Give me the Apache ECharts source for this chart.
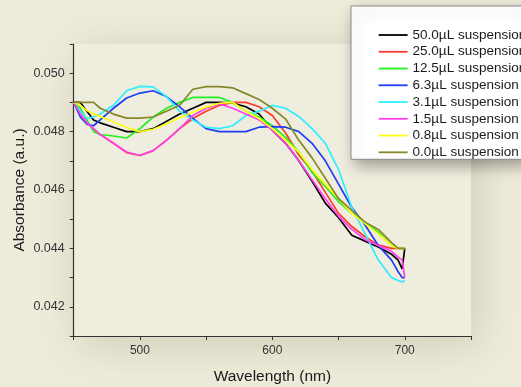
<!DOCTYPE html>
<html>
<head>
<meta charset="utf-8">
<script src="https://cdn.jsdelivr.net/npm/echarts@6/dist/echarts.min.js"></script>
<style>
html,body{margin:0;padding:0;background:#EDEBDA;}
#chart{width:521px;height:387px;}
</style>
</head>
<body>
<div id="chart"></div>
<script>
// Wavelength sample points (nm)
const wavelengths = [450,455,460,465,470,480,490,500,510,520,530,540,550,560,570,580,590,600,610,620,630,640,650,660,670,680,690,695,698,700];

const seriesNames = ["50.0µL suspension","25.0µL suspension","12.5µL suspension","6.3µL suspension","3.1µL suspension","1.5µL suspension","0.8µL suspension","0.0µL suspension"];

const s50_0 = [0.0490,0.0490,0.0487,0.0484,0.0483,0.04815,0.0480,0.0480,0.0481,0.04835,0.0486,0.0488,0.0490,0.0490,0.04898,0.04885,0.0486,0.04805,0.0476,0.0470,0.0463,0.04555,0.04505,0.04445,0.04425,0.04405,0.0438,0.0436,0.0433,0.0440];
const s25_0 = [0.0490,0.0486,0.0483,0.0481,0.0479,0.0476,0.04728,0.04718,0.04735,0.0477,0.0481,0.04845,0.0487,0.0489,0.0490,0.0490,0.04885,0.04855,0.04795,0.0472,0.04665,0.04592,0.0452,0.04475,0.0444,0.04412,0.0440,0.0440,0.0440,0.0440];
const s12_5 = [0.0490,0.0488,0.0484,0.0480,0.0479,0.04785,0.04778,0.0481,0.0485,0.0488,0.0490,0.04917,0.04917,0.04917,0.0490,0.0487,0.0485,0.0482,0.0478,0.0473,0.0466,0.04612,0.0456,0.0452,0.0449,0.04455,0.0441,0.0440,0.0440,0.0440];
const s6_3 = [0.0490,0.0485,0.04825,0.0482,0.0484,0.0488,0.04915,0.04932,0.0494,0.0492,0.04885,0.04845,0.0481,0.0480,0.0480,0.0480,0.04815,0.04817,0.04815,0.0480,0.0476,0.0470,0.0462,0.0454,0.0448,0.0441,0.0436,0.0432,0.0430,0.0430];
const s3_1 = [0.0490,0.0487,0.04845,0.0485,0.0486,0.0489,0.0494,0.04955,0.04953,0.0492,0.0487,0.0484,0.04815,0.0481,0.0482,0.04855,0.0487,0.0489,0.0488,0.04852,0.0481,0.0476,0.0467,0.0454,0.0445,0.0436,0.0430,0.0429,0.04285,0.0429];
const s1_5 = [0.0490,0.0486,0.0483,0.0481,0.0479,0.0476,0.0473,0.04718,0.04735,0.0477,0.0481,0.04855,0.0488,0.04895,0.0488,0.0486,0.0484,0.04805,0.0476,0.0470,0.04635,0.0457,0.0451,0.04465,0.0443,0.0441,0.0439,0.0437,0.0436,0.0430];
const s0_8 = [0.0490,0.0489,0.04872,0.0486,0.04852,0.04834,0.04814,0.0480,0.04808,0.04826,0.04848,0.04866,0.04884,0.04897,0.0490,0.0487,0.04845,0.0481,0.0477,0.0473,0.0467,0.0462,0.0457,0.0452,0.04485,0.0445,0.0441,0.0440,0.0440,0.0440];
const s0_0 = [0.0490,0.0490,0.0490,0.0490,0.0488,0.0486,0.04846,0.04846,0.0485,0.0487,0.0489,0.04945,0.04954,0.04954,0.0495,0.0493,0.0491,0.0488,0.04843,0.0477,0.0471,0.0464,0.0457,0.0453,0.0449,0.04465,0.0442,0.0440,0.0440,0.0440];

const seriesValues = [s50_0,s25_0,s12_5,s6_3,s3_1,s1_5,s0_8,s0_0];
const seriesColors = ["#000000","#FF3B30","#22F022","#1F3DF5","#2EEFFF","#FF40F0","#FFFF10","#87872A"];

const chart = echarts.init(document.getElementById('chart'), null, {renderer:'canvas'});
const font = "'Liberation Sans', Arial, sans-serif";

const option = {
  backgroundColor: '#EDEBDA',
  animation: false,
  grid: {
    left: 73.7, right: 50, top: 44, bottom: 51,
    outerBoundsMode: 'none',
    containLabel: false,
    show: true, borderWidth: 0, backgroundColor: '#EFEDDE',
    shadowBlur: 40, shadowColor: 'rgba(90,80,40,0.2)', shadowOffsetX: 6, shadowOffsetY: 8
  },
  legend: {
    orient: 'vertical',
    left: 351, top: 6,
    padding: [22, 0, 0, 26.7],
    itemWidth: 29, itemHeight: 14, itemGap: 2.76,
    itemStyle: {opacity: 0},
    lineStyle: {width: 1.8},
    backgroundColor: '#FFFFFF',
    borderColor: '#8A8A8A', borderWidth: 1,
    shadowBlur: 14, shadowColor: 'rgba(0,0,0,0.35)', shadowOffsetX: 4, shadowOffsetY: 6,
    textStyle: {fontFamily: font, fontSize: 13.5, color: '#1a1a1a', lineHeight: 14},
    data: seriesNames
  },
  xAxis: {
    type: 'value', min: 450, max: 750, interval: 50,
    name: 'Wavelength (nm)', nameLocation: 'middle', nameGap: 33,
    nameMoveOverlap: false,
    nameTextStyle: {fontFamily: font, fontSize: 15.5, color: '#1a1a1a'},
    axisLine: {show: true, lineStyle: {color: '#333', width: 1.2}},
    axisTick: {show: true, inside: false, length: 4, lineStyle: {color: '#333'}},
    splitLine: {show: false},
    axisLabel: {fontFamily: font, fontSize: 12, color: '#333', margin: 9,
      formatter: v => (Math.round(v) % 100 === 0 ? String(Math.round(v)) : '')}
  },
  yAxis: {
    type: 'value', min: 0.041, max: 0.051, interval: 0.001,
    name: 'Absorbance (a.u.)', nameLocation: 'middle', nameGap: 46,
    nameMoveOverlap: false,
    nameTextStyle: {fontFamily: font, fontSize: 15.5, color: '#1a1a1a'},
    axisLine: {show: true, lineStyle: {color: '#333', width: 1.2}},
    axisTick: {show: true, inside: false, length: 4, lineStyle: {color: '#333'}},
    splitLine: {show: false},
    axisLabel: {fontFamily: font, fontSize: 12.5, color: '#333', margin: 9,
      formatter: v => { const k = Math.round(v * 1000); return (k % 2 === 0 && k < 51) ? (k/1000).toFixed(3) : ''; }}
  },
  series: seriesNames.map((name, i) => ({
    name: name,
    type: 'line',
    symbol: 'none',
    color: seriesColors[i],
    lineStyle: {width: 1.7, color: seriesColors[i]},
    data: wavelengths.map((w, j) => [w, seriesValues[i][j]])
  }))
};
chart.setOption(option);
</script>
</body>
</html>
